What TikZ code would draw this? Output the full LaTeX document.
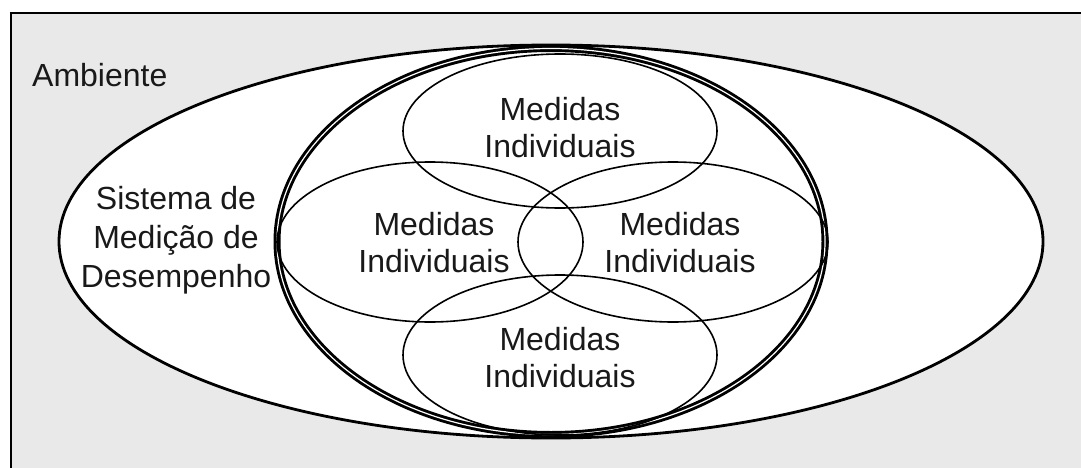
\documentclass[tikz,border=0pt]{standalone}
\usepackage{fontspec}
\setmainfont{Liberation Sans}
\usetikzlibrary{shapes.geometric}
\definecolor{bg}{RGB}{233,233,233}
\tikzset{
  lbl/.style={align=center, font=\fontsize{32}{37}\selectfont, text=black!90, inner sep=0pt},
  sub/.style={ellipse, draw, line width=1.6pt, inner sep=0pt, outer sep=0pt},
}
\begin{document}
\begin{tikzpicture}[x=1pt,y=-1pt]
\useasboundingbox (0,0) rectangle (1081,468);
% background frame (cut at right and bottom)
\fill[white] (0,0) rectangle (1081,468);
\draw[line width=2.2pt, fill=bg] (11,13) rectangle (1090,480);
% environment ellipse
\node[ellipse, draw, fill=white, line width=2.8pt, minimum width=984pt, minimum height=393pt, inner sep=0pt] (env) at (551,241.5) {};
% system ellipse (double line)
\node[ellipse, draw, line width=2.9pt, double, double distance=1.2pt, minimum width=548pt, minimum height=386pt, inner sep=0pt] (sys) at (551,241.5) {};
% individual measures
\node[sub, minimum width=314pt, minimum height=154pt] (top) at (560,131) {};
\node[sub, minimum width=306pt, minimum height=160pt] (left) at (430,242) {};
\node[sub, minimum width=310pt, minimum height=160pt] (right) at (673,242) {};
\node[sub, minimum width=314pt, minimum height=160pt] (bottom) at (560,355) {};
% labels
\node[lbl] (ttop) at (560,128) {Medidas\\Individuais};
\node[lbl] (tleft) at (434,243) {Medidas\\Individuais};
\node[lbl] (tright) at (680,243) {Medidas\\Individuais};
\node[lbl] (tbottom) at (560,358) {Medidas\\Individuais};
\node[lbl, font=\fontsize{32}{39}\selectfont] (tsys) at (176,240) {Sistema de\\Medição de\\Desempenho};
\node[lbl, anchor=base west] (tenv) at (32,87) {Ambiente};
\end{tikzpicture}
\end{document}
